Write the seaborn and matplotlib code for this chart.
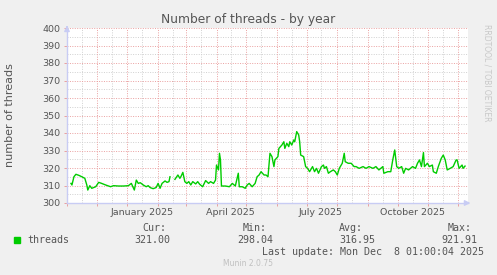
import matplotlib
matplotlib.use("Agg")
import matplotlib.pyplot as plt
import matplotlib.dates as mdates
import numpy as np
import pandas as pd
import seaborn as sns

# ---- data (days since 2025-01-01, threads) ----
day_offsets = [-57, -56, -54, -52, -49, -46, -43, -41, -40, -38, -36, -32, -29, -26, -22,
               -17, -14, -9, -4, 1, 4, 7, 9, 11, 13, 16, 19, 21, 23, 26, 29, 31, 33, 35,
               38, 40, 42, 43,
               48, 51, 53, 54, 56, 58, 60, 62, 64, 66, 69, 71, 73, 76, 79, 82, 84, 87,
               89, 90, 92, 93, 94, 95, 99, 103, 106, 109, 112, 113, 116, 119, 121, 123,
               126, 129, 131, 133, 135, 138, 140, 142, 144, 146, 148, 149, 152, 153, 156,
               158, 159, 161, 163, 164, 166, 168, 169, 171, 173, 174, 175, 178, 180, 182,
               184, 187, 189, 191, 193, 196, 198, 199, 201, 203, 205, 208, 210, 212, 214,
               217, 219, 220, 223, 226, 229, 231, 234, 238, 241, 244, 248, 251, 254, 258,
               259, 263, 266, 268, 270, 272, 274, 277, 279, 281, 284, 288, 291, 293, 295,
               297, 299, 300, 303, 305, 308, 309, 312, 314, 317, 319, 321, 323, 326, 329,
               332, 333, 335, 338, 339, 341]
threads = [311.2, 310.3, 315.0, 316.4, 315.8, 315.0, 314.1, 310.3, 307.4, 309.9, 308.4,
           309.3, 311.8, 311.2, 310.3, 309.3, 309.9, 309.7, 309.7, 309.9, 311.2, 307.4,
           313.1, 311.2, 311.6, 310.3, 309.3, 309.9, 308.8, 308.2, 308.8, 311.2, 308.4,
           311.2, 312.6, 311.8, 312.2, 315.0,
           313.5, 316.0, 314.1, 315.0, 317.5, 312.2, 311.2, 312.2, 310.3, 312.2, 310.9,
           312.2, 310.7, 309.3, 312.8, 311.2, 312.2, 311.2, 313.1, 321.7, 318.9, 328.4,
           324.6, 309.7, 309.7, 309.3, 311.2, 309.7, 317.0, 309.3, 309.3, 308.4, 310.3,
           311.2, 309.3, 311.2, 315.0, 316.0, 317.9, 316.0, 316.0, 315.0, 328.4, 326.5,
           320.8, 324.6, 326.5, 331.2, 333.1, 335.0, 331.2, 334.1, 332.2, 335.0, 333.1,
           336.0, 335.0, 340.8, 338.9, 335.0, 327.4, 326.5, 320.8, 319.8, 317.9, 320.8,
           317.9, 319.8, 317.0, 320.8, 321.7, 319.8, 320.8, 317.0, 317.9, 318.9, 317.9,
           316.0, 319.8, 322.7, 328.4, 323.6, 322.7, 322.7, 320.8, 320.8, 319.8, 320.8,
           319.8, 320.8, 319.8, 320.8, 318.9, 320.8, 317.0, 317.9, 317.9, 324.6, 330.3,
           320.8, 319.8, 320.8, 317.0, 319.8, 318.9, 320.8, 319.8, 322.7, 324.6, 320.8,
           328.8, 320.8, 322.7, 320.8, 321.7, 317.9, 317.0, 320.8, 325.5, 327.4, 324.6,
           318.9, 319.8, 320.8, 324.6, 324.6, 319.8, 321.7, 319.8, 321.1]
# a short gap in the data splits the series into two segments
segment = [0] * 38 + [1] * (len(day_offsets) - 38)

y_ticks = [300, 310, 320, 330, 340, 350, 360, 370, 380, 390, 400]
x_label_months = ["2025-01", "2025-04", "2025-07", "2025-10"]
x_labels = ["January 2025", "April 2025", "July 2025", "October 2025"]

stats_headers = ["Cur:", "Min:", "Avg:", "Max:"]
stats_values = ["321.00", "298.04", "316.95", "921.91"]

base = pd.Timestamp("2025-01-01")
df = pd.DataFrame({
    "date": base + pd.to_timedelta(day_offsets, unit="D"),
    "threads": threads,
    "segment": segment,
})

W, H = 497, 275
fig = plt.figure(figsize=(W / 100, H / 100), dpi=100, facecolor="#f0f0f0")
L, R, T, B = 67, 468, 28, 203
ax = fig.add_axes([L / W, 1 - B / H, (R - L) / W, (B - T) / H])
ax.set_facecolor("white")

TXT = "#555555"
MAJ = "#eaa0a0"
MIN = "#d0d0d0"
AXC = "#c8ccf4"

# grid
months = pd.date_range("2024-11-01", "2025-12-01", freq="MS")
for m in months:
    ax.axvline(m + pd.Timedelta(days=15), color=MIN, lw=0.7, ls=(0, (1, 1.5)), zorder=0.5)
    ax.axvline(m, color=MAJ, lw=0.7, ls=(0, (1, 1.5)), zorder=0.6)
for v in y_ticks:
    ax.axhline(v + 5, color=MIN, lw=0.7, ls=(0, (1, 1.5)), zorder=0.5)
    ax.axhline(v, color=MAJ, lw=0.7, ls=(0, (1, 1.5)), zorder=0.6)

sns.lineplot(data=df, x="date", y="threads", units="segment", estimator=None,
             color="#00cc00", lw=1.0, ax=ax, legend=False, zorder=3)

ax.set_xlim(base + pd.Timedelta(days=-57.3), base + pd.Timedelta(days=344))
ax.set_ylim(300, 400)
ax.set_xlabel("")
ax.set_ylabel("")

ax.set_yticks(y_ticks)
ax.set_yticklabels([str(v) for v in y_ticks])
ax.set_xticks(months, minor=False)
ax.set_xticklabels([""] * len(months))
ax.tick_params(axis="both", which="major", length=2, width=0.7, color=MAJ,
               labelsize=6.8, labelcolor=TXT, pad=3)
for s in ["top", "right"]:
    ax.spines[s].set_visible(False)
for s in ["left", "bottom"]:
    ax.spines[s].set_color(AXC)
    ax.spines[s].set_linewidth(1.0)
    ax.spines[s].set_zorder(4)

# month labels (centred mid-month)
for m, lab in zip(x_label_months, x_labels):
    pos = pd.Timestamp(m + "-15") + pd.Timedelta(hours=12)
    ax.text(pos, -0.055, lab, transform=ax.get_xaxis_transform(), ha="center",
            va="center", fontsize=6.8, color=TXT)

# axis arrows
ax.annotate("", xy=(1.013, 0), xytext=(0.99, 0), xycoords="axes fraction",
            arrowprops=dict(arrowstyle="-|>", color=AXC, lw=1, mutation_scale=8),
            annotation_clip=False)
ax.annotate("", xy=(0, 1.03), xytext=(0, 0.99), xycoords="axes fraction",
            arrowprops=dict(arrowstyle="-|>", color=AXC, lw=1, mutation_scale=8),
            annotation_clip=False)

def px(x, y):
    return x / W, 1 - y / H

fig.text(*px(248, 19), "Number of threads - by year", ha="center", va="center",
         fontsize=8.8, color=TXT)
fig.text(*px(10, 115), "number of threads", ha="center", va="center", rotation=90,
         fontsize=8, color=TXT)
fig.text(*px(487, 24), "RRDTOOL / TOBI OETIKER", ha="center", va="top", rotation=270,
         fontsize=5.5, color="#c8c8c8")

mono = dict(family="DejaVu Sans Mono", fontsize=7.2, color=TXT, va="center", ha="left")
fig.patches.append(plt.Rectangle(px(14, 243), 6 / W, 6 / H, transform=fig.transFigure,
                                 color="#00cc00", figure=fig))
fig.text(*px(27, 240), "threads", **mono)
for hx, h in zip([142, 243, 339, 448], stats_headers):
    fig.text(*px(hx, 228), h, **mono)
for vx, v in zip([134, 237, 339, 441], stats_values):
    fig.text(*px(vx, 240), v, **mono)
fig.text(*px(262, 252), "Last update: Mon Dec  8 01:00:04 2025", **mono)
fig.text(*px(248, 264), "Munin 2.0.75", ha="center", va="center", fontsize=5.5,
         color="#c0c0c0")

fig.savefig("out.png", dpi=100, facecolor=fig.get_facecolor())
